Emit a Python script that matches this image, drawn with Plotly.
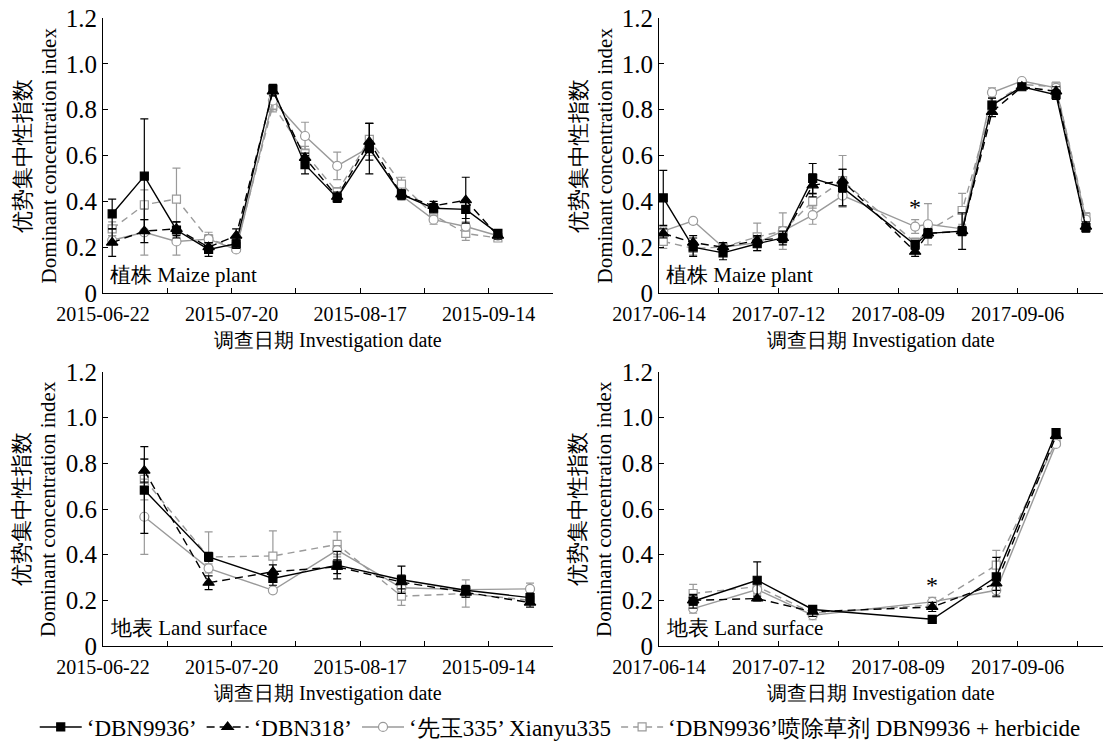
import plotly.graph_objects as go
from datetime import date, timedelta

# ---------------- data ----------------
# 2015, maize plant
d15_plant = ["2015-06-24", "2015-07-01", "2015-07-08", "2015-07-15", "2015-07-21", "2015-07-29",
             "2015-08-05", "2015-08-12", "2015-08-19", "2015-08-26", "2015-09-02", "2015-09-09", "2015-09-16"]
p15_dbn9936 = [0.345, 0.51, 0.275, 0.19, 0.215, 0.89, 0.56, 0.415, 0.63, 0.43, 0.37, 0.365, 0.26]
p15_dbn9936_err = [0.065, 0.25, 0.035, 0.03, 0.02, 0.02, 0.04, 0.02, 0.11, 0.02, 0.02, 0.04, 0.015]
p15_dbn318 = [0.22, 0.27, 0.28, 0.20, 0.25, 0.88, 0.59, 0.42, 0.66, 0.43, 0.38, 0.405, 0.25]
p15_dbn318_err = [0.06, 0.05, 0.03, 0.02, 0.03, 0.02, 0.02, 0.02, 0.08, 0.02, 0.02, 0.10, 0.015]
p15_xianyu = [0.23, 0.265, 0.225, 0.235, 0.19, 0.84, 0.685, 0.555, 0.635, 0.425, 0.32, 0.29, 0.25]
p15_xianyu_err = [0.02, 0.10, 0.06, 0.02, 0.01, 0.04, 0.06, 0.06, 0.02, 0.02, 0.02, 0.02, 0.01]
p15_herb = [0.28, 0.385, 0.41, 0.235, 0.20, 0.82, 0.61, 0.44, 0.67, 0.475, 0.34, 0.26, 0.24]
p15_herb_err = [0.03, 0.065, 0.135, 0.03, 0.02, 0.03, 0.03, 0.02, 0.07, 0.03, 0.03, 0.03, 0.01]

# 2017, maize plant
d17_plant = ["2017-06-15", "2017-06-22", "2017-06-29", "2017-07-07", "2017-07-13", "2017-07-20", "2017-07-27",
             "2017-08-13", "2017-08-16", "2017-08-24", "2017-08-31", "2017-09-07", "2017-09-15", "2017-09-22"]
p17_dbn9936 = [0.415, 0.20, 0.175, 0.215, 0.24, 0.50, 0.46, 0.21, 0.26, 0.27, 0.82, 0.90, 0.865, 0.285]
p17_dbn9936_err = [0.12, 0.04, 0.03, 0.03, 0.03, 0.065, 0.08, 0.02, 0.02, 0.08, 0.03, 0.01, 0.02, 0.02]
p17_dbn318 = [0.26, 0.22, 0.20, 0.23, 0.24, 0.47, 0.49, 0.18, 0.26, 0.27, 0.79, 0.90, 0.88, 0.29]
p17_dbn318_err = [0.02, 0.03, 0.02, 0.02, 0.02, 0.05, 0.05, 0.02, 0.02, 0.02, 0.02, 0.01, 0.02, 0.02]
p17_xianyu = [0.27, 0.315, 0.20, 0.22, 0.27, 0.34, 0.425, 0.29, 0.30, 0.28, 0.875, 0.925, 0.895, 0.32]
p17_xianyu_err = [0.02, 0.01, 0.02, 0.02, 0.02, 0.04, 0.05, 0.03, 0.09, 0.02, 0.02, 0.01, 0.01, 0.03]
p17_herb = [0.225, 0.195, 0.20, 0.245, 0.27, 0.40, 0.49, 0.22, 0.27, 0.36, 0.82, 0.91, 0.90, 0.33]
p17_herb_err = [0.03, 0.03, 0.02, 0.06, 0.08, 0.03, 0.11, 0.02, 0.02, 0.075, 0.03, 0.01, 0.02, 0.02]

# 2015, land surface
d15_land = ["2015-07-01", "2015-07-15", "2015-07-29", "2015-08-12", "2015-08-26", "2015-09-09", "2015-09-23"]
l15_dbn9936 = [0.683, 0.39, 0.296, 0.354, 0.29, 0.244, 0.212]
l15_dbn9936_err = [0.19, 0.02, 0.03, 0.06, 0.06, 0.02, 0.02]
l15_dbn318 = [0.768, 0.277, 0.325, 0.347, 0.28, 0.234, 0.19]
l15_dbn318_err = [0.05, 0.03, 0.03, 0.03, 0.03, 0.02, 0.02]
l15_xianyu = [0.566, 0.34, 0.244, 0.42, 0.255, 0.247, 0.25]
l15_xianyu_err = [0.165, 0.02, 0.01, 0.02, 0.02, 0.02, 0.025]
l15_herb = [0.73, 0.39, 0.394, 0.445, 0.218, 0.23, 0.20]
l15_herb_err = [0.09, 0.11, 0.11, 0.055, 0.04, 0.06, 0.02]

# 2017, land surface
d17_land = ["2017-06-22", "2017-07-07", "2017-07-20", "2017-08-17", "2017-09-01", "2017-09-15"]
l17_dbn9936 = [0.196, 0.288, 0.16, 0.117, 0.303, 0.935]
l17_dbn9936_err = [0.03, 0.08, 0.01, 0.01, 0.085, 0.01]
l17_dbn318 = [0.20, 0.208, 0.15, 0.171, 0.274, 0.92]
l17_dbn318_err = [0.02, 0.01, 0.02, 0.02, 0.03, 0.01]
l17_xianyu = [0.164, 0.247, 0.135, 0.193, 0.244, 0.885]
l17_xianyu_err = [0.02, 0.02, 0.02, 0.02, 0.03, 0.01]
l17_herb = [0.23, 0.26, 0.145, 0.18, 0.354, 0.895]
l17_herb_err = [0.04, 0.03, 0.02, 0.02, 0.065, 0.01]

series_names = ["‘DBN9936’", "‘DBN318’", "‘先玉335’ Xianyu335", "‘DBN9936’喷除草剂 DBN9936 + herbicide"]
y_ticks = [0, 0.2, 0.4, 0.6, 0.8, 1.0, 1.2]
y_labels = ["0", "0.2", "0.4", "0.6", "0.8", "1.0", "1.2"]

# ---------------- styling ----------------
BLACK = "#000000"
GREY = "#9a9a9a"
FONT = "Times New Roman, Liberation Serif, serif"

styles = [
    dict(color=BLACK, dash="solid", symbol="square", size=8, fill=BLACK),
    dict(color=BLACK, dash="8px,5px", symbol="triangle-up", size=10, fill=BLACK),
    dict(color=GREY, dash="solid", symbol="circle", size=9, fill="white"),
    dict(color=GREY, dash="7px,5px", symbol="square", size=8, fill="white"),
]

panels = [
    dict(dates=d15_plant, ys=[p15_dbn9936, p15_dbn318, p15_xianyu, p15_herb],
         errs=[p15_dbn9936_err, p15_dbn318_err, p15_xianyu_err, p15_herb_err],
         start=date(2015, 6, 22), span_h=98 * 24, label="植株 Maize plant"),
    dict(dates=d17_plant, ys=[p17_dbn9936, p17_dbn318, p17_xianyu, p17_herb],
         errs=[p17_dbn9936_err, p17_dbn318_err, p17_xianyu_err, p17_herb_err],
         start=date(2017, 6, 14), span_h=104 * 24 + 12, label="植株 Maize plant"),
    dict(dates=d15_land, ys=[l15_dbn9936, l15_dbn318, l15_xianyu, l15_herb],
         errs=[l15_dbn9936_err, l15_dbn318_err, l15_xianyu_err, l15_herb_err],
         start=date(2015, 6, 22), span_h=98 * 24, label="地表 Land surface"),
    dict(dates=d17_land, ys=[l17_dbn9936, l17_dbn318, l17_xianyu, l17_herb],
         errs=[l17_dbn9936_err, l17_dbn318_err, l17_xianyu_err, l17_herb_err],
         start=date(2017, 6, 14), span_h=104 * 24 + 12, label="地表 Land surface"),
]

W, H = 1105, 741
# plot-area pixel boxes: (left, right, top, bottom)
boxes = [(103, 553, 18, 293), (659, 1103, 18, 293),
         (103, 553, 372, 646), (659, 1103, 372, 646)]

fig = go.Figure()
layout = dict(width=W, height=H, margin=dict(l=0, r=0, t=0, b=0, autoexpand=False),
              paper_bgcolor="white", plot_bgcolor="white",
              font=dict(family=FONT, size=20, color="black"))
annotations = []

for i, (pn, box) in enumerate(zip(panels, boxes)):
    ax = "" if i == 0 else str(i + 1)
    xa, ya = "x" + ax, "y" + ax
    left, right, top, bottom = box
    # grey series first so the black ones sit on top
    for s in [3, 2, 1, 0]:
        st = styles[s]
        fig.add_trace(go.Scatter(
            x=pn["dates"], y=pn["ys"][s], xaxis=xa, yaxis=ya,
            mode="lines+markers", name=series_names[s], legendrank=s + 1,
            showlegend=(i == 0),
            line=dict(color=st["color"], width=1.4, dash=st["dash"]),
            marker=dict(symbol=st["symbol"], size=st["size"], color=st["fill"],
                        line=dict(color=st["color"], width=1.2)),
            error_y=dict(type="data", array=pn["errs"][s], visible=True,
                         color=st["color"], thickness=1.2, width=4),
        ))
    start = pn["start"]
    end = start + timedelta(hours=pn["span_h"])
    tickdates = [start + timedelta(days=14 * k) for k in range(8)]
    ticktext = [t.isoformat() if k % 2 == 0 else "" for k, t in enumerate(tickdates)]
    layout["xaxis" + ax] = dict(
        type="date", domain=[left / W, right / W], anchor=ya, automargin=False,
        range=[start.isoformat(), end.isoformat()],
        tickvals=[t.isoformat() for t in tickdates], ticktext=ticktext,
        ticks="inside", ticklen=5, tickwidth=1, tickcolor="black", ticklabelstandoff=3,
        showline=True, linecolor="black", linewidth=1, showgrid=False, zeroline=False,
        tickfont=dict(family=FONT, size=20), fixedrange=True)
    layout["yaxis" + ax] = dict(
        domain=[(H - bottom) / H, (H - top) / H], anchor=xa, range=[0, 1.2], automargin=False,
        tickvals=y_ticks, ticktext=y_labels,
        ticks="inside", ticklen=5, tickwidth=1, tickcolor="black",
        showline=True, linecolor="black", linewidth=1, showgrid=False, zeroline=False,
        tickfont=dict(family=FONT, size=25), fixedrange=True)

    # panel label inside plot area
    annotations.append(dict(text=pn["label"], xref=xa + " domain", yref=ya + " domain",
                            x=0.012, y=0.065, xanchor="left", yanchor="middle", showarrow=False,
                            font=dict(family=FONT, size=21)))
    # x-axis title
    annotations.append(dict(text="调查日期 Investigation date", xref="paper", yref="paper",
                            x=(left + right) / 2 / W, y=(H - (bottom + 47)) / H,
                            xanchor="center", yanchor="middle", showarrow=False,
                            font=dict(family=FONT, size=20)))
    # y-axis title, two lines
    cy = (H - (top + bottom) / 2) / H
    annotations.append(dict(text="优势集中性指数", xref="paper", yref="paper",
                            x=(left - 81) / W, y=cy, textangle=-90,
                            xanchor="center", yanchor="middle", showarrow=False,
                            font=dict(family=FONT, size=22)))
    annotations.append(dict(text="Dominant concentration index", xref="paper", yref="paper",
                            x=(left - 55) / W, y=cy, textangle=-90,
                            xanchor="center", yanchor="middle", showarrow=False,
                            font=dict(family=FONT, size=21)))

# significance marks
annotations.append(dict(text="*", x="2017-08-13", y=0.375, xref="x2", yref="y2", showarrow=False,
                        font=dict(family=FONT, size=24)))
annotations.append(dict(text="*", x="2017-08-17", y=0.265, xref="x4", yref="y4", showarrow=False,
                        font=dict(family=FONT, size=24)))

layout["annotations"] = annotations
layout["legend"] = dict(orientation="h", x=0.507, xanchor="center", y=(H - 727) / H, yanchor="middle",
                        font=dict(family=FONT, size=23), traceorder="normal", itemwidth=42,
                        bgcolor="rgba(0,0,0,0)", tracegroupgap=0)
fig.update_layout(**layout)
fig.write_html("out.html")
